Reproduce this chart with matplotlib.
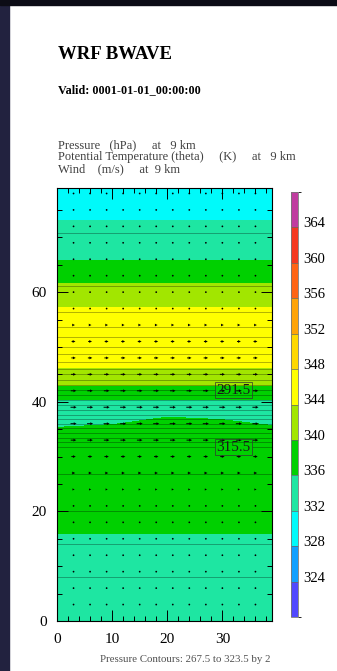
import numpy as np
import matplotlib
matplotlib.use('Agg')
import matplotlib.pyplot as plt
from matplotlib.colors import ListedColormap, BoundaryNorm
from matplotlib.ticker import MultipleLocator
from matplotlib.patches import Rectangle

plt.rcParams['font.family'] = ['Liberation Serif', 'DejaVu Serif']

# potential temperature (K) at 9 km (rows = y, cols = x)
theta_x = [0, 10, 20, 30, 39]
theta_y = [0, 15.9, 25, 33, 34, 36, 38, 40.4, 42.8, 46.2, 51, 54, 57.3, 61.6, 65.7, 73.1, 79]
theta = [
    [334.0, 334.0, 334.0, 334.0, 334.0],
    [336.0, 336.0, 336.0, 336.0, 336.0],
    [338.6, 338.6, 338.6, 338.6, 338.6],
    [338.2, 338.2, 338.3, 338.3, 338.2],
    [337.0, 337.1, 337.6, 337.4, 337.0],
    [335.5, 335.9, 336.6, 336.4, 335.8],
    [335.0, 335.0, 335.6, 335.3, 335.0],
    [336.0, 336.0, 336.0, 336.0, 336.0],
    [340.0, 340.0, 340.0, 340.0, 340.0],
    [344.0, 344.0, 344.0, 344.0, 344.0],
    [346.6, 346.6, 346.6, 346.6, 346.6],
    [346.6, 346.6, 346.6, 346.6, 346.6],
    [344.0, 344.0, 344.0, 344.0, 344.0],
    [340.0, 340.0, 340.0, 340.0, 340.0],
    [336.0, 336.0, 336.0, 336.0, 336.0],
    [332.0, 332.0, 332.0, 332.0, 332.0],
    [330.0, 330.0, 330.0, 330.0, 330.0],
]
theta_levels = [320, 324, 328, 332, 336, 340, 344, 348, 352, 356, 360, 364, 368]
theta_ticks = [324, 328, 332, 336, 340, 344, 348, 352, 356, 360, 364]
theta_colors = ['#5048ff', '#10a0ff', '#00fafa', '#1ee6a2', '#00d000', '#a2e600',
                '#ffff00', '#ffd800', '#ffa408', '#ff6414', '#f43820', '#c03ca0']

# pressure (hPa) at 9 km, north-south profile
p_x = [0, 10, 20, 30, 39]
p_y = [0, 8, 14, 20, 25, 28.5, 31.7, 35, 38, 42.1, 46, 50, 54, 58, 64, 72, 79]
p_prof = [325.0, 323.5, 321.5, 319.5, 318.0, 317.0, 315.5, 308.0, 300.5, 291.5,
          283.5, 277.5, 273.0, 270.5, 268.6, 267.3, 266.8]
p_levels = np.arange(267.5, 323.6, 2)

# wind (m/s), westerly jet, one value per vector row
vec_x = [3, 6, 9, 12, 15, 18, 21, 24, 27, 30, 33, 36]
vec_y = [3, 6, 9, 12, 15, 18, 21, 24, 27, 30, 33, 36, 39, 42, 45, 48, 51, 54, 57,
         60, 63, 66, 69, 72, 75, 78]
u_row = [0.3, 0.3, 0.3, 0.3, 0.3, 0.8, 2, 4, 6, 8, 10, 11, 11, 10, 9, 8, 7, 5, 3,
         0.8, 0.3, 0.3, 0.3, 0.3, 0.3, 0.3]

W, H = 337, 671
fig = plt.figure(figsize=(W / 100, H / 100), dpi=100)
fig.patch.set_facecolor('white')
fig.add_artist(Rectangle((0, 0), 9 / W, 1, transform=fig.transFigure,
                         color='#22223f', zorder=-5))
fig.add_artist(Rectangle((0, 1 - 5 / H), 1, 5 / H, transform=fig.transFigure,
                         color='#0c0c16', zorder=-5))

ax = fig.add_axes([57 / W, (H - 621) / H, 215 / W, 433 / H])
cmap = ListedColormap(theta_colors)
norm = BoundaryNorm(theta_levels, cmap.N)
cf = ax.contourf(theta_x, theta_y, np.array(theta), levels=theta_levels,
                 cmap=cmap, norm=norm)

P = np.tile(np.array(p_prof)[:, None], (1, len(p_x)))
cs = ax.contour(p_x, p_y, P, levels=p_levels, colors='k', linewidths=0.6, alpha=0.35)
lbls = ax.clabel(cs, fmt='%.1f', fontsize=11, inline=True, inline_spacing=1,
                 manual=[(32, 42.1), (32, 31.6)])
for t in lbls:
    t.set_color('#1a1a1a')
    t.set_alpha(1)
    t.set_bbox(dict(facecolor='none', edgecolor='#333333', linewidth=0.5, pad=1))

U = np.tile(np.array(u_row)[:, None], (1, len(vec_x)))
V = np.zeros_like(U)
ax.quiver(vec_x, vec_y, U, V, angles='xy', scale_units='xy', scale=10,
          pivot='middle', width=0.0045, headwidth=3, headlength=3,
          headaxislength=2.8, minlength=2, color='k', zorder=3)

ax.set_xlim(0, 39)
ax.set_ylim(0, 79)
ax.set_xticks([0, 10, 20, 30])
ax.set_yticks([0, 20, 40, 60])
ax.xaxis.set_minor_locator(MultipleLocator(2))
ax.yaxis.set_minor_locator(MultipleLocator(5))
ax.tick_params(which='both', direction='in', top=True, right=True, width=0.7)
ax.tick_params(which='major', length=8, labelsize=11)
ax.tick_params(which='minor', length=3.5)
ax.tick_params(axis='x', pad=8.5)
ax.tick_params(axis='y', pad=7.5)
for s in ax.spines.values():
    s.set_linewidth(0.8)

cax = fig.add_axes([291 / W, (H - 617) / H, 7 / W, 425 / H])
cb = fig.colorbar(cf, cax=cax, ticks=theta_ticks, drawedges=True)
cb.outline.set_edgecolor('#777777')
cb.outline.set_linewidth(0.6)
cb.dividers.set_color('#666666')
cb.dividers.set_linewidth(0.5)
cax.tick_params(length=0, labelsize=10.5, pad=4)
for t in cax.get_yticklabels():
    t.set_va('baseline')

fig.text(58 / W, 1 - 59 / H, 'WRF BWAVE', fontsize=13.5, fontweight='bold', va='baseline')
fig.text(58 / W, 1 - 93 / H, 'Valid: 0001-01-01_00:00:00', fontsize=8.7,
         fontweight='bold', va='baseline')
fig.text(58 / W, 1 - 148 / H, 'Pressure   (hPa)     at   9 km', fontsize=9,
         color='#404040', va='baseline')
fig.text(58 / W, 1 - 160 / H, 'Potential Temperature (theta)     (K)     at   9 km',
         fontsize=9, color='#404040', va='baseline')
fig.text(58 / W, 1 - 172 / H, 'Wind    (m/s)     at  9 km', fontsize=9,
         color='#404040', va='baseline')
fig.text(270 / W, 1 - 662 / H, 'Pressure Contours: 267.5 to 323.5 by 2', fontsize=7.8,
         color='#505050', ha='right', va='baseline')

fig.savefig('out.png', dpi=100)
